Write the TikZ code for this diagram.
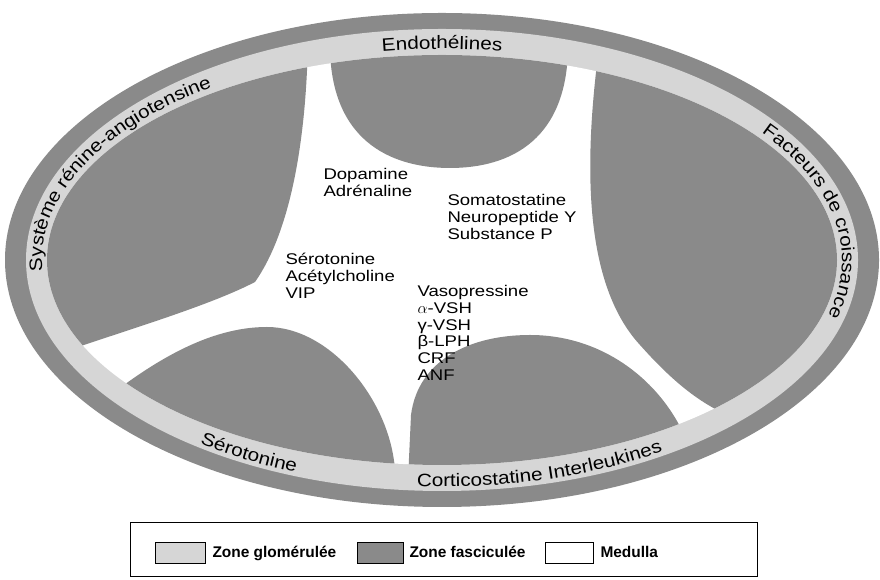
\documentclass[tikz,border=0pt]{standalone}
\usepackage{fontspec}
\setmainfont{Liberation Sans}
\newfontfamily\lblfamily[FakeStretch=1.2]{Liberation Sans}
\newfontfamily\bandfamily[FakeStretch=1.15]{Liberation Sans}
\newcommand\bandfont{\bandfamily\fontsize{13.5}{15}\selectfont}
\usetikzlibrary{decorations.text}

\definecolor{fascgray}{RGB}{138,138,138}
\definecolor{glomgray}{RGB}{214,214,214}

\tikzset{every picture/.style={line width=0.75pt}}
\tikzset{
	fasczone/.style={fill=fascgray, draw opacity=0},
	glomzone/.style={fill=glomgray, draw opacity=0},
	lbl/.style={anchor=north west, inner sep=0pt, align=left, font=\lblfamily\fontsize{11.6}{12.5}\selectfont},
	keytext/.style={anchor=base west, inner sep=0pt, font=\bfseries\fontsize{11.6}{13}\selectfont},
	keybox/.style={draw=black, line width=0.6pt},
	bandtext/.style={decorate, decoration={text along path, text align=left, text={|\bandfont|#1}}}}

\begin{document}
\begin{tikzpicture}[x=0.75pt,y=0.75pt,yscale=1,xscale=1]
	\useasboundingbox (0,0) rectangle (880,580);

	%Shape: Ellipse (capsule)
	\draw [fasczone] (442,320) ellipse [x radius=437, y radius=247];
	%Shape: Ellipse (zone glomerulee)
	\draw [glomzone] (442,320) ellipse [x radius=416, y radius=231];
	%Shape: Ellipse (medulla)
	\draw [fill=white, draw opacity=0] (442,320) ellipse [x radius=395, y radius=205];

	\begin{scope}
	\clip (442,320) ellipse [x radius=395, y radius=205];
	%Shape: Lobe upper left
	\draw [fasczone] (308,540) .. controls (306,430) and (288,345) .. (255,298) .. controls (205,272) and (110,245) .. (40,220) -- (0,220) -- (0,580) -- (308,580) -- cycle ;
	%Shape: Lobe top
	\draw [fasczone] (330,540) .. controls (328,440) and (390,412) .. (450,412) .. controls (510,412) and (570,440) .. (568,540) -- (568,580) -- (330,580) -- cycle ;
	%Shape: Lobe right
	\draw [fasczone] (600,540) .. controls (585,430) and (580,300) .. (640,235) .. controls (680,190) and (710,170) .. (745,158) -- (880,158) -- (880,580) -- (600,580) -- cycle ;
	%Shape: Lobe lower left
	\draw [fasczone] (80,160) .. controls (150,220) and (210,253) .. (267,253) .. controls (330,253) and (390,180) .. (395,110) -- (395,0) -- (80,0) -- cycle ;
	%Shape: Lobe lower right
	\draw [fasczone] (408,100) -- (411,165) .. controls (418,220) and (470,245) .. (530,245) .. controls (610,245) and (670,190) .. (690,130) -- (690,0) -- (408,0) -- cycle ;
	\end{scope}

	% Band labels
	\path [shift={(442,320)}, bandtext={Endothélines}, decoration={text align=center}] (120:400 and 211) arc [start angle=120, end angle=60, x radius=400, y radius=211];
	\path [shift={(442,320)}, bandtext={Système rénine-angiotensine}] (183:400 and 211) arc [start angle=183, end angle=100, x radius=400, y radius=211];
	\path [shift={(442,320)}, bandtext={Facteurs de croissance}] (37:400 and 211) arc [start angle=37, end angle=-30, x radius=400, y radius=211];
	\path [shift={(442,320)}, bandtext={Sérotonine}] (234:412 and 227) arc [start angle=234, end angle=275, x radius=412, y radius=227];
	\path [shift={(442,320)}, bandtext={Corticostatine Interleukines}] (266.5:412 and 227) arc [start angle=266.5, end angle=330, x radius=412, y radius=227];

	% Text Node
	\node [lbl] (dopa) at (323,412) {Dopamine\\Adrénaline};
	% Text Node
	\node [lbl] (soma) at (447,386) {Somatostatine\\Neuropeptide Y\\Substance P};
	% Text Node
	\node [lbl] (sero) at (285,327) {Sérotonine\\Acétylcholine\\VIP};
	% Text Node
	\node [lbl] (vaso) at (417,295) {Vasopressine\\$\alpha$-VSH\\γ-VSH\\β-LPH\\CRF\\ANF};

	%Shape: Rectangle (key frame)
	\draw [line width=0.6pt] (130,58) -- (757,58) -- (757,4) -- (130,4) -- cycle ;
	%Shape: Rectangle
	\draw [keybox, fill=glomgray] (155,17) rectangle (205,38) ;
	\node [keytext] (keyglom) at (212,22) {Zone glomérulée};
	%Shape: Rectangle
	\draw [keybox, fill=fascgray] (357,17) rectangle (403,38) ;
	\node [keytext] (keyfasc) at (409,22) {Zone fasciculée};
	%Shape: Rectangle
	\draw [keybox, fill=white] (545,17) rectangle (593,38) ;
	\node [keytext] (keymed) at (600,22) {Medulla};
\end{tikzpicture}
\end{document}
